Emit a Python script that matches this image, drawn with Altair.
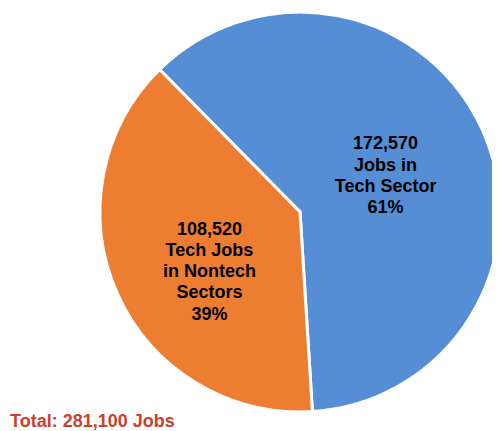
import altair as alt
import pandas as pd

categories = ["Jobs in Tech Sector", "Tech Jobs in Nontech Sectors"]
values = [172570, 108520]
labels = ["172,570\nJobs in\nTech Sector\n61%", "108,520\nTech Jobs\nin Nontech\nSectors\n39%"]
colors = ["#558ED5", "#ED7D31"]
total_text = "Total: 281,100 Jobs"

df = pd.DataFrame({"cat": categories, "value": values, "label": labels, "order": [0, 1]})

start = -0.778
theta_scale = alt.Scale(domain=[0, sum(values)], range=[start, start + 6.283185307])
cx, cy = 292, 204

base = alt.Chart(df)

pie = base.mark_arc(outerRadius=200, stroke="white", strokeWidth=3).encode(
    theta=alt.Theta("value:Q", stack=True, scale=theta_scale),
    order=alt.Order("order:Q"),
    color=alt.Color("cat:N", scale=alt.Scale(domain=categories, range=colors), legend=None),
    x=alt.value(cx), y=alt.value(cy),
)

def label_layer(cat, dx, dy):
    return base.transform_window(
        cum="sum(value)", sort=[alt.SortField("order")]
    ).transform_calculate(
        mid="datum.cum - datum.value / 2"
    ).transform_filter(alt.datum.cat == cat).mark_text(
        radius=97, font="Liberation Sans", fontWeight="bold", fontSize=18,
        lineBreak="\n", lineHeight=21.3, align="center", baseline="middle",
        color="black", dx=dx, dy=dy,
    ).encode(
        theta=alt.Theta("mid:Q", stack=None, scale=theta_scale),
        text="label:N",
        x=alt.value(cx), y=alt.value(cy),
    )

lab_blue = label_layer(categories[0], -3, -28)
lab_orange = label_layer(categories[1], -2, -22)

total = alt.Chart(pd.DataFrame({"t": [total_text]})).mark_text(
    font="Liberation Sans", fontWeight="bold", fontSize=18, color="#CC4129",
    align="left", baseline="alphabetic",
).encode(text="t:N", x=alt.value(2), y=alt.value(418.7))

chart = alt.layer(pie, lab_blue, lab_orange, total).properties(
    width=484, height=423, padding=0, autosize="none"
).configure_view(stroke=None)

chart.save("out.html", embed_options={"renderer": "svg", "actions": False})
